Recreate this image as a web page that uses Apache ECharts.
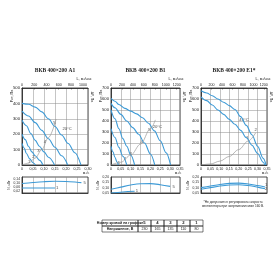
<!DOCTYPE html>
<html><head><meta charset="utf-8">
<script src="https://cdn.jsdelivr.net/npm/echarts@6/dist/echarts.min.js"></script>
<style>html,body{margin:0;padding:0;background:#fff}#c{width:280px;height:280px}</style>
</head><body><div id="c"></div>
<script>
// ---------- DATA ----------
// Panel A1: flow (m3/s) vs static pressure (Pa)
const a1Curve5 = [[0,400],[0.03,394],[0.06,376],[0.09,345],[0.12,300],[0.15,250],[0.18,195],[0.21,140],[0.24,80],[0.268,0]];
const a1Curve4 = [[0,350],[0.03,318],[0.06,275],[0.09,225],[0.12,170],[0.15,115],[0.18,60],[0.208,0]];
const a1Curve3 = [[0,290],[0.02,255],[0.04,205],[0.06,160],[0.08,120],[0.10,85],[0.12,50],[0.148,0]];
const a1Curve2 = [[0,200],[0.015,165],[0.03,120],[0.045,85],[0.06,60],[0.08,30],[0.095,0]];
const a1Curve1 = [[0,140],[0.01,110],[0.02,75],[0.035,40],[0.05,15],[0.062,0]];
const a1System = [[0,0],[0.03,12],[0.06,45],[0.09,100],[0.12,178],[0.155,298]];
const a1Marks = [[0.033,22,'1'],[0.052,55,'2'],[0.075,92,'3'],[0.104,150,'4'],[0.147,272,'5'],[0.205,232,'20°C']];
const a1Power5 = [[0,0.095],[0.05,0.105],[0.10,0.113],[0.15,0.117],[0.20,0.115],[0.25,0.108],[0.27,0.104]];
const a1Power1 = [[0,0.05],[0.05,0.05],[0.10,0.05],[0.15,0.05]];
const a1PowerMarks = [[0.285,0.104,'5'],[0.16,0.05,'1']];
const a1PowerTicks = [0.02,0.06,0.10,0.14];

// Panel B1
const b1Curve5 = [[0,605],[0.02,580],[0.04,550],[0.07,515],[0.10,490],[0.13,465],[0.16,430],[0.19,380],[0.22,310],[0.25,220],[0.28,110],[0.302,0]];
const b1Curve4 = [[0,560],[0.02,520],[0.05,460],[0.08,400],[0.11,340],[0.14,280],[0.17,200],[0.20,100],[0.222,0]];
const b1Curve3 = [[0,500],[0.02,420],[0.04,330],[0.06,240],[0.08,170],[0.10,90],[0.12,0]];
const b1Curve2 = [[0,330],[0.02,250],[0.04,160],[0.06,80],[0.08,0]];
const b1Curve1 = [[0,170],[0.01,120],[0.02,70],[0.03,30],[0.037,0]];
const b1System = [[0,0],[0.05,25],[0.10,90],[0.15,190],[0.20,330],[0.225,410]];
const b1Marks = [[0.04,22,'1'],[0.07,60,'2'],[0.10,105,'3'],[0.155,215,'4'],[0.195,320,'5'],[0.235,345,'20°C']];
const b1Power5 = [[0,0.085],[0.05,0.105],[0.10,0.125],[0.15,0.137],[0.20,0.138],[0.25,0.128],[0.30,0.112]];
const b1Power1 = [[0,0.05],[0.06,0.06],[0.12,0.066]];
const b1PowerMarks = [[0.318,0.112,'5'],[0.132,0.066,'1']];
const b1PowerTicks = [0.05,0.10,0.15,0.20];

// Panel E1*
const e1Curve1 = [[0,675],[0.03,655],[0.06,630],[0.09,600],[0.12,570],[0.15,540],[0.18,505],[0.21,440],[0.24,360],[0.27,275],[0.30,170],[0.33,60],[0.345,0]];
const e1Curve2 = [[0,620],[0.03,585],[0.06,545],[0.09,500],[0.12,460],[0.15,415],[0.18,370],[0.21,315],[0.24,250],[0.27,180],[0.30,105],[0.33,25],[0.338,0]];
const e1System = [[0,0],[0.05,9],[0.10,35],[0.15,78],[0.20,140],[0.25,218],[0.29,293]];
const e1Marks = [[0.245,250,'1'],[0.29,320,'2'],[0.228,410,'40°C']];
const e1Power1 = [[0,0.10],[0.05,0.115],[0.10,0.13],[0.15,0.14],[0.20,0.143],[0.25,0.135],[0.30,0.12],[0.34,0.106]];
const e1Power2 = [[0,0.085],[0.05,0.10],[0.10,0.115],[0.15,0.125],[0.20,0.128],[0.25,0.12],[0.30,0.105],[0.34,0.09]];
const e1PowerMarks = [[0.345,0.128,'1'],[0.345,0.092,'2']];
const e1PowerTicks = [0.05,0.10,0.15,0.20];

// Table
const tableHeader = ['Номер кривой на графике','Напряжение, В'];
const curveNumbers = ['5','4','3','2','1'];
const voltages = ['230','165','135','110','80'];

// ---------- CHART ----------
const blue = '#3d9ad6';
const FONT = 'Liberation Sans';
const panels = [
  {title:'ВКВ 400×200 A1', left:22, width:66, xMax:0.30, lMax:1080, yMax:500,
   curves:[a1Curve5,a1Curve4,a1Curve3,a1Curve2,a1Curve1], sys:a1System, marks:a1Marks,
   power:[a1Power5,a1Power1], pMarks:a1PowerMarks, pMin:0, pMax:0.16, pInt:0.02, pTicks:a1PowerTicks},
  {title:'ВКВ 400×200 B1', left:111, width:69, xMax:0.35, lMax:1260, yMax:700,
   curves:[b1Curve5,b1Curve4,b1Curve3,b1Curve2,b1Curve1], sys:b1System, marks:b1Marks,
   power:[b1Power5,b1Power1], pMarks:b1PowerMarks, pMin:0.05, pMax:0.20, pInt:0.05, pTicks:b1PowerTicks},
  {title:'ВКВ 400×200 E1*', left:201, width:66, xMax:0.35, lMax:1260, yMax:700,
   curves:[e1Curve1,e1Curve2], sys:e1System, marks:e1Marks,
   power:[e1Power1,e1Power2], pMarks:e1PowerMarks, pMin:0.05, pMax:0.20, pInt:0.05, pTicks:e1PowerTicks}
];
const MT = 88, MH = 77, ST = 177, SH = 16;
const grids=[], xAxes=[], yAxes=[], series=[], graphics=[];
const lab = {fontSize:4.2, color:'#222', fontFamily:FONT};
const labS = {fontSize:3.6, color:'#222', fontFamily:FONT};
const comma = v => v === 0 ? '0' : v.toFixed(2).replace('.', ',');
const axLine = {show:true, lineStyle:{color:'#222', width:0.8}};
const split = {show:true, lineStyle:{color:'#8a8a8a', width:0.5}};
function txt(x, y, text, opts) {
  opts = opts || {};
  graphics.push({type:'text', x:x, y:y, rotation:opts.rot||0, silent:true,
    style:{text:text, fontSize:opts.size||4.5, fontFamily:opts.family||FONT, fontWeight:opts.weight||'normal',
      fill:opts.color||'#222', align:opts.align||'center', verticalAlign:'middle'}});
}
panels.forEach(p => {
  const gm = grids.length;
  grids.push({left:p.left, top:MT, width:p.width, height:MH, show:true, borderColor:'#222', borderWidth:0.8, outerBoundsMode:'none'});
  const gs = grids.length;
  grids.push({left:p.left, top:ST, width:p.width, height:SH, show:true, borderColor:'#222', borderWidth:0.8, outerBoundsMode:'none'});
  const xb = xAxes.length;
  xAxes.push({gridIndex:gm, type:'value', position:'bottom', min:0, max:p.xMax, interval:0.05,
    axisLine:axLine, axisTick:{show:false}, axisLabel:Object.assign({margin:2, formatter:comma, hideOverlap:false}, labS), splitLine:split});
  xAxes.push({gridIndex:gm, type:'value', position:'top', min:0, max:p.lMax, interval:200,
    axisLine:axLine, axisTick:{show:true, inside:true, length:1.5, lineStyle:{color:'#222', width:0.5}},
    axisLabel:Object.assign({margin:1.5, showMaxLabel:false, formatter: v => String(v)}, labS), splitLine:{show:false}});
  const xs = xAxes.length;
  xAxes.push({gridIndex:gs, type:'value', min:0, max:p.xMax, interval:0.05,
    axisLine:axLine, axisTick:{show:false}, axisLabel:{show:false}, splitLine:split});
  const ym = yAxes.length;
  yAxes.push({gridIndex:gm, type:'value', min:0, max:p.yMax, interval:100,
    axisLine:axLine, axisTick:{show:false}, axisLabel:Object.assign({margin:2}, lab), splitLine:split});
  const ys = yAxes.length;
  yAxes.push({gridIndex:gs, type:'value', min:p.pMin, max:p.pMax, interval:p.pInt,
    axisLine:axLine, axisTick:{show:false},
    axisLabel:Object.assign({margin:2, showMaxLabel:true, fontSize:3.3, formatter: v => p.pTicks.some(t => Math.abs(t-v) < 1e-6) ? comma(v) : ''}, {color:'#222', fontFamily:FONT}),
    splitLine:{show:false}});
  p.curves.forEach(c => series.push({type:'line', xAxisIndex:xb, yAxisIndex:ym, data:c, smooth:0.35, smoothMonotone:'x',
    showSymbol:false, silent:true, lineStyle:{color:blue, width:1.1}}));
  series.push({type:'line', xAxisIndex:xb, yAxisIndex:ym, data:p.sys, smooth:0.35, smoothMonotone:'x',
    showSymbol:false, silent:true, lineStyle:{color:'#9a9a9a', width:0.7}});
  series.push({type:'scatter', xAxisIndex:xb, yAxisIndex:ym, data:p.marks, symbolSize:0.01, silent:true,
    label:{show:true, position:'inside', formatter:d => d.data[2], fontSize:4.2, color:'#222', fontFamily:FONT}});
  p.power.forEach(c => series.push({type:'line', xAxisIndex:xs, yAxisIndex:ys, data:c, smooth:0.35,
    showSymbol:false, silent:true, lineStyle:{color:blue, width:1.1}}));
  series.push({type:'scatter', xAxisIndex:xs, yAxisIndex:ys, data:p.pMarks, symbolSize:0.01, silent:true,
    label:{show:true, position:'inside', formatter:d => d.data[2], fontSize:4.2, color:'#222', fontFamily:FONT}});
  const cx = p.left + p.width/2, r = p.left + p.width;
  txt(cx, 71, p.title, {size:5.5, family:'Liberation Serif', weight:'bold'});
  txt(r - 4, 78.5, 'L, м³/час', {size:3.8});
  txt(p.left - 10, 96, 'Pст, Па', {size:3.8, rot:Math.PI/2});
  txt(r + 4, 97, 'ΔP, Па', {size:3.4, rot:-Math.PI/2});
  txt(r - 2, 172.5, 'м³/с', {size:3.6});
  txt(p.left - 13, ST + SH/2, 'N, кВт', {size:3.3, rot:Math.PI/2});
});
// footnote
txt(233, 202, '*Не допускается регулировать скорость', {size:3.2});
txt(233, 206.5, 'вентилятора при напряжении ниже 160 В.', {size:3.2});
// table
const tx0 = 102, tW0 = 36, tCW = 13, tY = 220, tRH = 6;
[0,1].forEach(r => {
  graphics.push({type:'rect', silent:true, shape:{x:tx0, y:tY + r*tRH, width:tW0, height:tRH},
    style:{fill:'none', stroke:'#222', lineWidth:0.6}});
  txt(tx0 + tW0/2, tY + r*tRH + tRH/2, tableHeader[r], {size:3.6, weight:'bold'});
  const vals = r === 0 ? curveNumbers : voltages;
  vals.forEach((v, k) => {
    graphics.push({type:'rect', silent:true, shape:{x:tx0 + tW0 + k*tCW, y:tY + r*tRH, width:tCW, height:tRH},
      style:{fill:'none', stroke:'#222', lineWidth:0.6}});
    txt(tx0 + tW0 + k*tCW + tCW/2, tY + r*tRH + tRH/2, v, {size:r === 0 ? 4.2 : 3.6, weight:r === 0 ? 'bold' : 'normal'});
  });
});
const chart = echarts.init(document.getElementById('c'), null, {renderer:'canvas', width:280, height:280});
chart.setOption({animation:false, backgroundColor:'#fff', grid:grids, xAxis:xAxes, yAxis:yAxes, series:series, graphic:graphics});
</script></body></html>
